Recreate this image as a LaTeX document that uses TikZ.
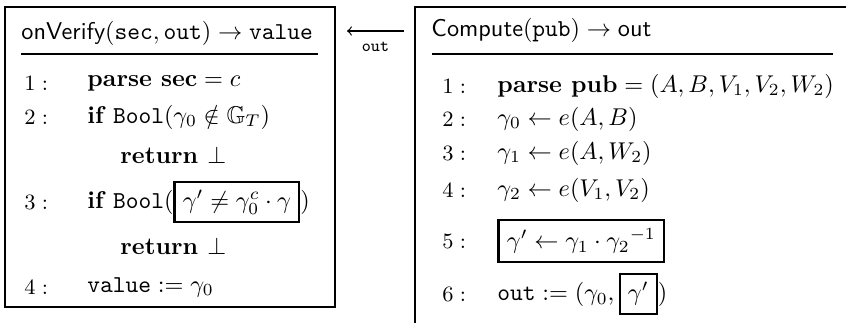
\documentclass[tikz,border=0pt]{standalone}
\usepackage{amsmath,amssymb}
\usetikzlibrary{positioning}

\tikzset{
  frame/.style={line width=0.95pt},
  rule/.style={line width=0.95pt},
  lnum/.style={anchor=west, inner sep=0pt, font=\small},
  stmt/.style={anchor=west, inner sep=0pt},
}

\begin{document}
\begin{tikzpicture}[x=0.412pt, y=-0.412pt]
  \useasboundingbox (0,0) rectangle (846,323);
  \setlength{\fboxrule}{0.85pt}

  % --- verifier side ---
  \draw[frame] (5,7) rectangle (335,307);
  \node[stmt] (vhead) at (21,33)
    {$\textsf{onVerify}(\mathtt{sec},\mathtt{out}) \rightarrow \mathtt{value}$};
  \draw[rule] (21,54) -- (318,54);

  \node[lnum] (vn1) at (24,83)  {$1:$};
  \node[stmt] (v1)  at (87,83)  {$\textbf{parse sec} = c$};
  \node[lnum] (vn2) at (24,117) {$2:$};
  \node[stmt] (v2)  at (87,117) {$\textbf{if } \mathtt{Bool}(\gamma_0 \notin \mathbb{G}_T)$};
  \node[stmt] (vr1) at (120,155) {$\textbf{return } \bot$};
  \node[lnum] (vn3) at (24,202) {$3:$};
  \node[stmt] (v3)  at (87,202)
    {$\textbf{if } \mathtt{Bool}(\fbox{$\gamma' \neq \gamma_0^c \cdot \gamma$})$};
  \node[stmt] (vr2) at (120,246) {$\textbf{return } \bot$};
  \node[lnum] (vn4) at (24,287) {$4:$};
  \node[stmt] (v4)  at (87,287) {$\mathtt{value} := \gamma_0$};

  % --- message ---
  \coordinate (msgfrom) at (404,31);
  \coordinate (msgto) at (347,31);
  \draw[->, line width=0.5pt] (msgfrom) -- (msgto)
    node[midway, below=1pt, font=\scriptsize] (msg) {$\mathtt{out}$};

  % --- compute side ---
  \draw[frame] (846,7) -- (415,7) -- (415,323);
  \node[stmt] (chead) at (431,30)
    {$\textsf{Compute}(\mathtt{pub}) \rightarrow \textsf{out}$};
  \draw[rule] (432,54) -- (833,54);

  \node[lnum] (cn1) at (442,86)  {$1:$};
  \node[stmt] (c1)  at (497,86)  {$\textbf{parse pub} = (A, B, V_1, V_2, W_2)$};
  \node[lnum] (cn2) at (442,119) {$2:$};
  \node[stmt] (c2)  at (497,119) {$\gamma_0 \gets e(A, B)$};
  \node[lnum] (cn3) at (442,153) {$3:$};
  \node[stmt] (c3)  at (497,153) {$\gamma_1 \gets e(A, W_2)$};
  \node[lnum] (cn4) at (442,190) {$4:$};
  \node[stmt] (c4)  at (497,190) {$\gamma_2 \gets e(V_1, V_2)$};
  \node[lnum] (cn5) at (442,241) {$5:$};
  \node[stmt] (c5)  at (497,241)
    {\fbox{$\gamma' \gets \gamma_1 \cdot {\gamma_2}^{-1}$}};
  \node[lnum] (cn6) at (442,294) {$6:$};
  \node[stmt] (c6)  at (497,294) {$\mathtt{out} := (\gamma_0, \fbox{$\gamma'$})$};

\end{tikzpicture}
\end{document}
